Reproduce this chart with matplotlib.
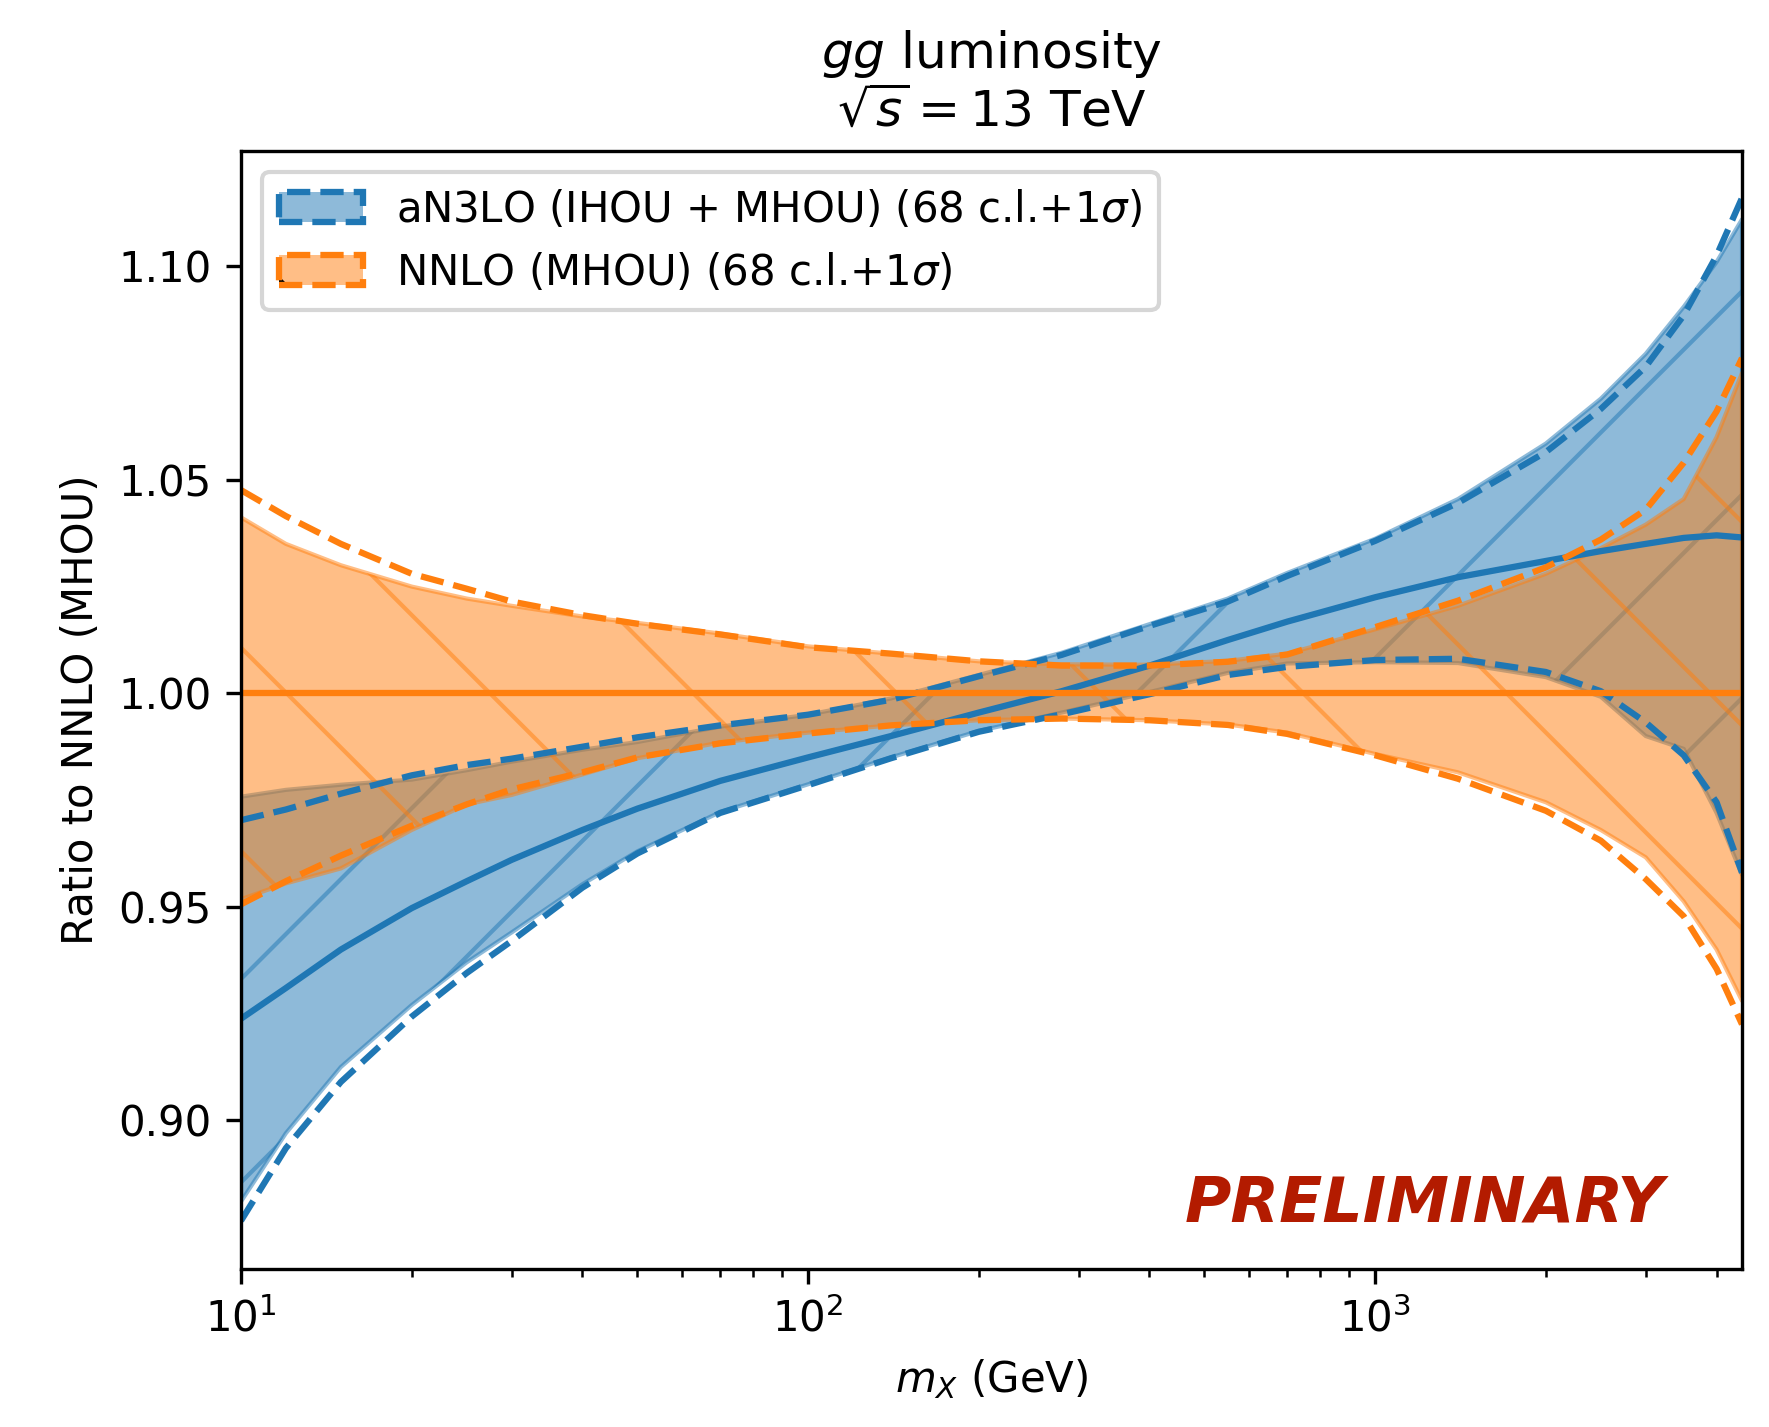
import numpy as np
import matplotlib
matplotlib.use('Agg')
import matplotlib.pyplot as plt
from matplotlib.patches import Patch
from matplotlib.legend_handler import HandlerTuple
from matplotlib.colors import to_rgba

# high dpi so that the hatch spacing comes out as wide as in the reference,
# every size in points is scaled down by K to compensate
DPI = 610
K = 0.495

plt.rcParams.update({
    'font.size': 10 * K,
    'lines.linewidth': 1.5 * K,
    'patch.linewidth': 1.0 * K,
    'hatch.linewidth': 1.0 * K,
    'axes.linewidth': 0.8 * K,
    'axes.labelpad': 4 * K,
    'axes.titlepad': 6 * K,
    'xtick.major.size': 3.5 * K,
    'xtick.minor.size': 2 * K,
    'ytick.major.size': 3.5 * K,
    'ytick.minor.size': 2 * K,
    'xtick.major.width': 0.8 * K,
    'xtick.minor.width': 0.6 * K,
    'ytick.major.width': 0.8 * K,
    'ytick.minor.width': 0.6 * K,
    'xtick.major.pad': 3.5 * K,
    'xtick.minor.pad': 3.4 * K,
    'ytick.major.pad': 3.5 * K,
})

# invariant mass grid (GeV)
m_x = [10, 12, 15, 20, 25, 30, 40, 50, 70, 100, 140, 200, 280, 400, 550,
       700, 1000, 1400, 2000, 2500, 3000, 3500, 4000, 4435]

# aN3LO (IHOU + MHOU)
an3lo_central = [0.9238, 0.9310, 0.9400, 0.9497, 0.9560, 0.9610, 0.9680, 0.9730,
                 0.9795, 0.9850, 0.9900, 0.9955, 1.0005, 1.0065, 1.0125, 1.0168,
                 1.0225, 1.0272, 1.0310, 1.0333, 1.0350, 1.0364, 1.0370, 1.0365]
an3lo_cl_up = [0.9758, 0.9774, 0.9786, 0.9798, 0.9820, 0.9840, 0.9868, 0.9886,
               0.9922, 0.9950, 0.9988, 1.0043, 1.0095, 1.0162, 1.0222, 1.0282,
               1.0362, 1.0455, 1.0585, 1.0690, 1.0795, 1.0905, 1.1010, 1.1110]
an3lo_cl_dn = [0.8810, 0.8970, 0.9125, 0.9270, 0.9370, 0.9440, 0.9553, 0.9630,
               0.9722, 0.9787, 0.9850, 0.9912, 0.9955, 1.0003, 1.0048, 1.0070,
               1.0073, 1.0071, 1.0038, 0.9992, 0.9900, 0.9870, 0.9720, 0.9575]
an3lo_sig_up = [0.9703, 0.9728, 0.9765, 0.9808, 0.9832, 0.9847, 0.9875, 0.9897,
                0.9925, 0.9950, 0.9985, 1.0040, 1.0090, 1.0158, 1.0215, 1.0275,
                1.0357, 1.0446, 1.0565, 1.0666, 1.0765, 1.0885, 1.1025, 1.1160]
an3lo_sig_dn = [0.8765, 0.8935, 0.9090, 0.9243, 0.9345, 0.9420, 0.9545, 0.9625,
                0.9720, 0.9785, 0.9848, 0.9910, 0.9951, 0.9998, 1.0043, 1.0062,
                1.0078, 1.0081, 1.0050, 1.0005, 0.9932, 0.9855, 0.9745, 0.9580]

# NNLO (MHOU), normalised to itself
nnlo_central = [1.0] * len(m_x)
nnlo_cl_up = [1.0412, 1.0350, 1.0300, 1.0250, 1.0222, 1.0205, 1.0180, 1.0165,
              1.0140, 1.0110, 1.0093, 1.0075, 1.0068, 1.0067, 1.0076, 1.0093,
              1.0150, 1.0205, 1.0280, 1.0340, 1.0395, 1.0455, 1.0600, 1.0750]
nnlo_cl_dn = [0.9518, 0.9555, 0.9590, 0.9680, 0.9740, 0.9762, 0.9810, 0.9848,
              0.9885, 0.9908, 0.9925, 0.9937, 0.9941, 0.9937, 0.9927, 0.9908,
              0.9858, 0.9815, 0.9745, 0.9680, 0.9616, 0.9513, 0.9400, 0.9280]
nnlo_sig_up = [1.0476, 1.0415, 1.0350, 1.0280, 1.0245, 1.0215, 1.0183, 1.0163,
               1.0138, 1.0108, 1.0093, 1.0075, 1.0065, 1.0065, 1.0074, 1.0091,
               1.0155, 1.0217, 1.0295, 1.0360, 1.0430, 1.0540, 1.0660, 1.0785]
nnlo_sig_dn = [0.9506, 0.9560, 0.9620, 0.9690, 0.9740, 0.9775, 0.9815, 0.9850,
               0.9883, 0.9906, 0.9925, 0.9937, 0.9941, 0.9937, 0.9926, 0.9905,
               0.9855, 0.9800, 0.9725, 0.9655, 0.9565, 0.9478, 0.9355, 0.9225]

fig = plt.figure(figsize=(1769 / DPI, 1427 / DPI), dpi=DPI)
ax = fig.add_axes([241 / 1769, 1 - 1269 / 1427, 1501 / 1769, 1118 / 1427])

# bands first (blue under orange), lines on top
ax.fill_between(m_x, an3lo_cl_dn, an3lo_cl_up, color='C0', alpha=0.5, hatch='/')
ax.fill_between(m_x, nnlo_cl_dn, nnlo_cl_up, color='C1', alpha=0.5, hatch='\\')

lw = 1.5 * K
ax.plot(m_x, an3lo_central, color='C0', lw=lw)
ax.plot(m_x, an3lo_sig_up, color='C0', lw=lw, ls='--')
ax.plot(m_x, an3lo_sig_dn, color='C0', lw=lw, ls='--')
ax.plot(m_x, nnlo_central, color='C1', lw=lw)
ax.plot(m_x, nnlo_sig_up, color='C1', lw=lw, ls='--')
ax.plot(m_x, nnlo_sig_dn, color='C1', lw=lw, ls='--')

ax.set_xscale('log')
ax.set_xlim(10, 4435)
ax.set_ylim(0.8652, 1.1270)
ax.set_yticks([0.90, 0.95, 1.00, 1.05, 1.10])

ax.set_xlabel(r'$m_X$ (GeV)')
ax.set_ylabel('Ratio to NNLO (MHOU)')
ax.set_title('$gg$ luminosity\n' + r'$\sqrt{s} = 13$ TeV')

handles = [
    (Patch(facecolor=to_rgba('C0', 0.5), hatch='/'),
     Patch(fill=False, edgecolor='C0', linestyle='--', linewidth=lw)),
    (Patch(facecolor=to_rgba('C1', 0.5), hatch='\\'),
     Patch(fill=False, edgecolor='C1', linestyle='--', linewidth=lw)),
]
labels = [r'aN3LO (IHOU + MHOU) (68 c.l.+1$\sigma$)',
          r'NNLO (MHOU) (68 c.l.+1$\sigma$)']
ax.legend(handles, labels, loc='upper left',
          handler_map={tuple: HandlerTuple(ndivide=1)})

ax.text(0.948, 0.058, 'PRELIMINARY', transform=ax.transAxes,
        ha='right', va='center', fontsize=15.1 * K, fontweight='bold',
        fontstyle='italic', color='#b31b00')

fig.savefig('out.png', dpi=DPI)
